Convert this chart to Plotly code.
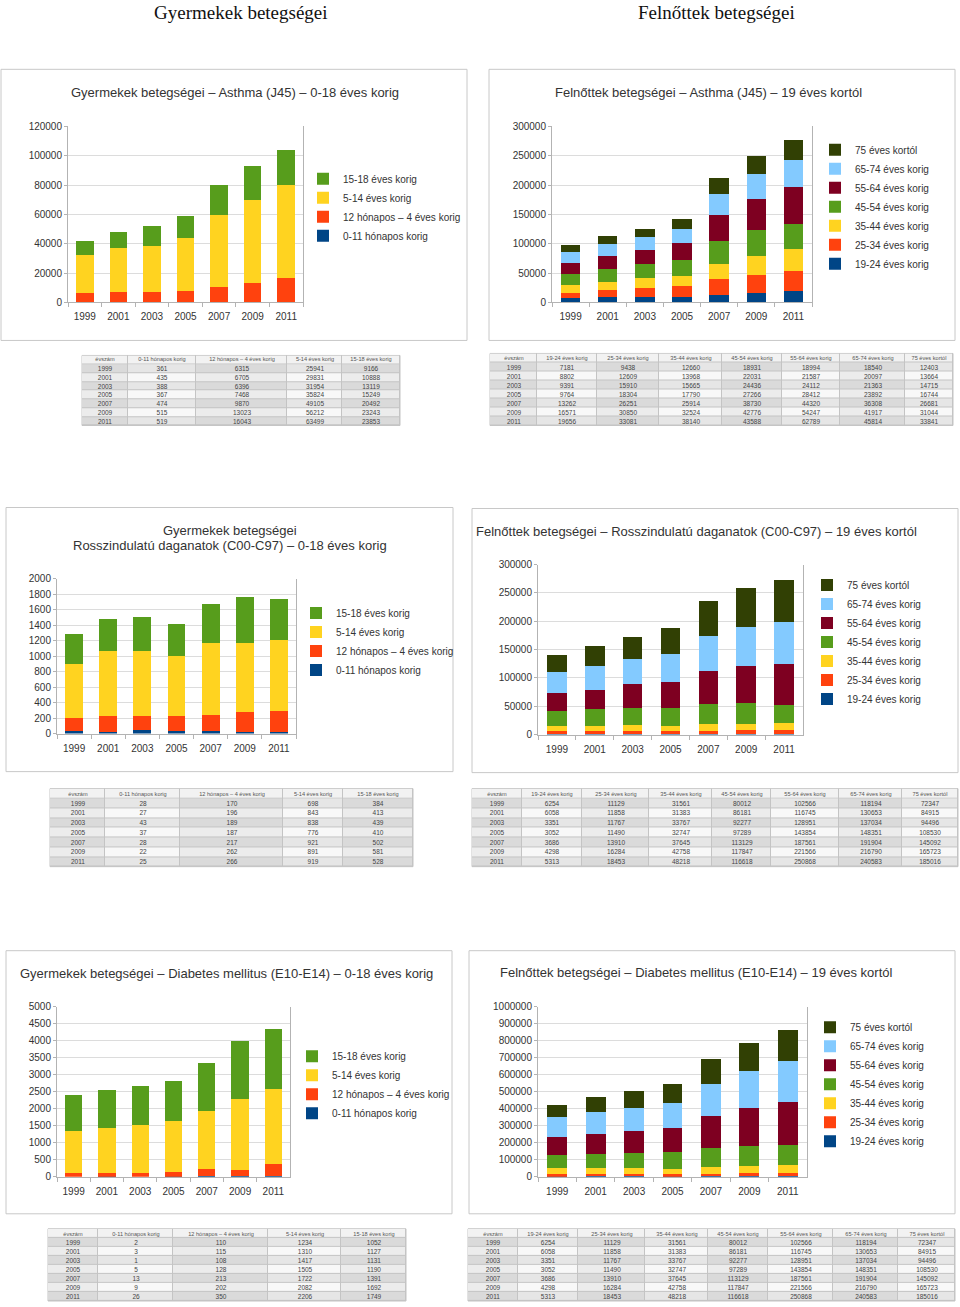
import plotly.graph_objects as go

W, H = 960, 1307

years = ["1999", "2001", "2003", "2005", "2007", "2009", "2011"]

child_groups = ["0-11 hónapos korig", "12 hónapos – 4 éves korig", "5-14 éves korig", "15-18 éves korig"]
adult_groups = ["19-24 éves korig", "25-34 éves korig", "35-44 éves korig", "45-54 éves korig",
                "55-64 éves korig", "65-74 éves korig", "75 éves kortól"]
child_colors = ["#004586", "#ff420e", "#ffd320", "#579d1c"]
adult_colors = ["#004586", "#ff420e", "#ffd320", "#579d1c", "#7e0021", "#83caff", "#314004"]

# --- Gyermekek: Asthma (J45) ---
asthma_c_0_11 = [361, 435, 388, 367, 474, 515, 519]
asthma_c_12h_4 = [6315, 6705, 6396, 7468, 9870, 13023, 16043]
asthma_c_5_14 = [25941, 29831, 31954, 35824, 49105, 56212, 63499]
asthma_c_15_18 = [9166, 10888, 13119, 15249, 20492, 23243, 23853]

# --- Felnőttek: Asthma (J45) ---
asthma_a_19_24 = [7181, 8802, 9391, 9764, 13262, 16571, 19656]
asthma_a_25_34 = [9438, 12609, 15910, 18304, 26251, 30850, 33081]
asthma_a_35_44 = [12660, 13968, 15665, 17790, 25914, 32524, 38140]
asthma_a_45_54 = [18931, 22031, 24436, 27266, 38730, 42776, 43588]
asthma_a_55_64 = [18994, 21587, 24112, 28412, 44320, 54247, 62789]
asthma_a_65_74 = [18540, 20097, 21363, 23892, 36308, 41917, 45814]
asthma_a_75 = [12403, 13664, 14715, 16744, 26681, 31044, 33841]

# --- Gyermekek: Rosszindulatú daganatok ---
cancer_c_0_11 = [28, 27, 43, 37, 28, 22, 25]
cancer_c_12h_4 = [170, 196, 189, 187, 217, 262, 266]
cancer_c_5_14 = [698, 843, 838, 776, 921, 891, 919]
cancer_c_15_18 = [384, 413, 439, 410, 502, 581, 528]

# --- Felnőttek: Rosszindulatú daganatok ---
cancer_a_19_24 = [1000, 1000, 1000, 1000, 1500, 1500, 1500]
cancer_a_25_34 = [5000, 5000, 5000, 5000, 5500, 6000, 6500]
cancer_a_35_44 = [9000, 9000, 11000, 10000, 11000, 11500, 12000]
cancer_a_45_54 = [26000, 29500, 30000, 31000, 36500, 36500, 33000]
cancer_a_55_64 = [33000, 35000, 42000, 46500, 57500, 66000, 72000]
cancer_a_65_74 = [36000, 42000, 43500, 49000, 62000, 69000, 74500]
cancer_a_75 = [31000, 35500, 40500, 46000, 62000, 68500, 73500]

# --- Felnőttek: table under cancer chart (as printed) ---
ctab_a_19_24 = [6254, 6058, 3351, 3052, 3686, 4298, 5313]
ctab_a_25_34 = [11129, 11858, 11767, 11490, 13910, 16284, 18453]
ctab_a_35_44 = [31561, 31383, 33767, 32747, 37645, 42758, 48218]
ctab_a_45_54 = [80012, 86181, 92277, 97289, 113129, 117847, 116618]
ctab_a_55_64 = [102566, 116745, 128951, 143854, 187561, 221566, 250868]
ctab_a_65_74 = [118194, 130653, 137034, 148351, 191904, 216790, 240583]
ctab_a_75 = [72347, 84915, 94496, 108530, 145092, 165723, 185016]

# --- Gyermekek: Diabetes mellitus ---
diab_c_0_11 = [2, 3, 1, 5, 13, 9, 26]
diab_c_12h_4 = [110, 115, 108, 128, 213, 202, 350]
diab_c_5_14 = [1234, 1310, 1417, 1505, 1722, 2082, 2206]
diab_c_15_18 = [1052, 1127, 1131, 1190, 1391, 1692, 1749]

# --- Felnőttek: Diabetes mellitus ---
diab_a_19_24 = [6254, 6058, 3351, 3052, 3686, 4298, 5313]
diab_a_25_34 = [11129, 11858, 11767, 11490, 13910, 16284, 18453]
diab_a_35_44 = [31561, 31383, 33767, 32747, 37645, 42758, 48218]
diab_a_45_54 = [80012, 86181, 92277, 97289, 113129, 117847, 116618]
diab_a_55_64 = [102566, 116745, 128951, 143854, 187561, 221566, 250868]
diab_a_65_74 = [118194, 130653, 137034, 148351, 191904, 216790, 240583]
diab_a_75 = [72347, 84915, 94496, 108530, 145092, 165723, 185016]

child_asthma = [asthma_c_0_11, asthma_c_12h_4, asthma_c_5_14, asthma_c_15_18]
adult_asthma = [asthma_a_19_24, asthma_a_25_34, asthma_a_35_44, asthma_a_45_54,
                asthma_a_55_64, asthma_a_65_74, asthma_a_75]
child_cancer = [cancer_c_0_11, cancer_c_12h_4, cancer_c_5_14, cancer_c_15_18]
adult_cancer = [cancer_a_19_24, cancer_a_25_34, cancer_a_35_44, cancer_a_45_54,
                cancer_a_55_64, cancer_a_65_74, cancer_a_75]
adult_cancer_table = [ctab_a_19_24, ctab_a_25_34, ctab_a_35_44, ctab_a_45_54,
                      ctab_a_55_64, ctab_a_65_74, ctab_a_75]
child_diab = [diab_c_0_11, diab_c_12h_4, diab_c_5_14, diab_c_15_18]
adult_diab = [diab_a_19_24, diab_a_25_34, diab_a_35_44, diab_a_45_54,
              diab_a_55_64, diab_a_65_74, diab_a_75]

FONT = "Liberation Sans, Arial, sans-serif"


def px(x):
    return x / W


def py(y):
    # vertical placement helper (page pixels -> paper fraction), with a small
    # correction so that the photographed page lines up with the reference
    yy = (y - 5.7) / 0.9904
    yy = max(0.0, min(float(H), yy))
    return 1 - yy / H


panels = [
    dict(series=child_asthma, groups=child_groups, colors=child_colors,
         plot=(68, 303, 126, 302), ymax=120000, dtick=20000, leg=(303, 164),
         box=(1, 467, 69, 340),
         titles=[("Gyermekek betegségei – Asthma (J45) – 0-18 éves korig", 235, 92)]),
    dict(series=adult_asthma, groups=adult_groups, colors=adult_colors,
         plot=(552, 812, 126, 302), ymax=300000, dtick=50000, leg=(815, 135),
         box=(489, 955, 69, 340),
         titles=[("Felnőttek betegségei – Asthma (J45) – 19 éves kortól", 708, 92)]),
    dict(series=child_cancer, groups=child_groups, colors=child_colors,
         plot=(57, 296, 578, 733), ymax=2000, dtick=200, leg=(296, 598),
         box=(6, 453, 507, 771),
         titles=[("Gyermekek betegségei", 230, 530),
                 ("Rosszindulatú daganatok (C00-C97) – 0-18 éves korig", 230, 545)]),
    dict(series=adult_cancer, groups=adult_groups, colors=adult_colors,
         plot=(538, 803, 564, 734), ymax=300000, dtick=50000, leg=(807, 570),
         box=(472, 958, 508, 772),
         titles=[("Felnőttek betegségei – Rosszindulatú daganatok (C00-C97) – 19 éves kortól", 696, 531)]),
    dict(series=child_diab, groups=child_groups, colors=child_colors,
         plot=(57, 290, 1006, 1176), ymax=5000, dtick=500, leg=(292, 1041),
         box=(6, 452, 950, 1213),
         titles=[("Gyermekek betegségei – Diabetes mellitus (E10-E14) – 0-18 éves korig", 226, 973)]),
    dict(series=adult_diab, groups=adult_groups, colors=adult_colors,
         plot=(538, 807, 1006, 1176), ymax=1000000, dtick=100000, leg=(810, 1012),
         box=(469, 955, 950, 1213),
         titles=[("Felnőttek betegségei – Diabetes mellitus (E10-E14) – 19 éves kortól", 696, 972)]),
]

fig = go.Figure()
layout = dict(width=W, height=H, margin=dict(l=0, r=0, t=0, b=0),
              paper_bgcolor="white", plot_bgcolor="white",
              barmode="stack", bargap=0.48, showlegend=True,
              font=dict(family=FONT, size=10, color="#333333"))
shapes = []
annotations = []

for i, p in enumerate(panels):
    n = i + 1
    xa = "xaxis" if n == 1 else f"xaxis{n}"
    ya = "yaxis" if n == 1 else f"yaxis{n}"
    xr = "x" if n == 1 else f"x{n}"
    yr = "y" if n == 1 else f"y{n}"
    lg = "legend" if n == 1 else f"legend{n}"
    x0, x1, y0, y1 = p["plot"]
    for name, vals, col in zip(p["groups"], p["series"], p["colors"]):
        fig.add_trace(go.Bar(x=years, y=vals, name=name, marker=dict(color=col, line=dict(width=0)),
                             xaxis=xr, yaxis=yr, legend=lg, hoverinfo="x+y+name"))
    layout[xa] = dict(domain=[px(x0), px(x1)], anchor=yr, type="category",
                      showline=True, linecolor="#b3b3b3", linewidth=1,
                      ticks="outside", tickson="boundaries", ticklen=4, tickcolor="#b3b3b3",
                      ticklabelstandoff=5,
                      tickfont=dict(size=10, color="#333333"), showgrid=False, zeroline=False)
    layout[ya] = dict(domain=[py(y1), py(y0)], anchor=xr, range=[0, p["ymax"]], dtick=p["dtick"],
                      tickformat="d", showline=True, linecolor="#b3b3b3", linewidth=1, mirror=True,
                      ticks="outside", ticklen=3, tickcolor="#b3b3b3",
                      showgrid=True, gridcolor="#dcdcdc", gridwidth=1, zeroline=False,
                      tickfont=dict(size=10, color="#333333"))
    lx, ly = p["leg"]
    layout[lg] = dict(x=px(lx), y=py(ly), xanchor="left", yanchor="top",
                      traceorder="reversed", bgcolor="rgba(0,0,0,0)",
                      font=dict(size=10, color="#333333", family=FONT), itemwidth=30)
    bx0, bx1, by0, by1 = p["box"]
    shapes.append(dict(type="rect", xref="paper", yref="paper", x0=px(bx0), x1=px(bx1),
                       y0=py(by1), y1=py(by0), line=dict(color="#c8c8c8", width=1),
                       fillcolor="white", layer="below"))
    for text, tx, ty in p["titles"]:
        annotations.append(dict(text=text, x=px(tx), y=py(ty), xref="paper", yref="paper",
                                xanchor="center", yanchor="middle", showarrow=False,
                                font=dict(size=13, color="#333333", family=FONT)))

SERIF = "Liberation Serif, Times New Roman, serif"
annotations.append(dict(text="Gyermekek betegségei", x=px(241), y=py(12.5), xref="paper", yref="paper",
                        xanchor="center", yanchor="middle", showarrow=False,
                        font=dict(size=19, color="#111111", family=SERIF)))
annotations.append(dict(text="Felnőttek betegségei", x=px(716), y=py(12.5), xref="paper", yref="paper",
                        xanchor="center", yanchor="middle", showarrow=False,
                        font=dict(size=19, color="#111111", family=SERIF)))

# --- tables (drawn as text grids on their own hidden axes) ---
tables = [
    dict(x=(82, 400), y=(355, 425), groups=child_groups, data=child_asthma, cw=[46, 68, 91, 55, 58]),
    dict(x=(490, 953), y=(353, 425), groups=adult_groups, data=adult_asthma, cw=[47, 60, 62, 63, 60, 58, 65, 48]),
    dict(x=(50, 413), y=(788, 866), groups=child_groups, data=child_cancer, cw=[55, 75, 103, 60, 70]),
    dict(x=(472, 958), y=(788, 866), groups=adult_groups, data=adult_cancer_table, cw=[50, 60, 67, 63, 59, 68, 63, 56]),
    dict(x=(48, 406), y=(1228, 1305), groups=child_groups, data=child_diab, cw=[50, 75, 95, 73, 65]),
    dict(x=(468, 955), y=(1228, 1305), groups=adult_groups, data=adult_diab, cw=[50, 60, 67, 63, 60, 65, 65, 57]),
]

shade_scale = [[0.0, "#f2f2f2"], [0.2, "#f2f2f2"], [0.2, "#dadada"], [0.4, "#dadada"],
               [0.4, "#ececec"], [0.6, "#ececec"], [0.6, "#e6e6e6"], [0.8, "#e6e6e6"],
               [0.8, "#f8f8f8"], [1.0, "#f8f8f8"]]

for k, t in enumerate(tables):
    n = 7 + k
    xa, ya, xr, yr = f"xaxis{n}", f"yaxis{n}", f"x{n}", f"y{n}"
    x0, x1 = t["x"]
    y0, y1 = t["y"]
    nrow = len(years)
    edges = [0]
    for w in t["cw"]:
        edges.append(edges[-1] + w)
    ncol = len(t["cw"])
    head = ["évszám"] + t["groups"]
    fig.add_trace(go.Heatmap(
        x=edges, y=[0, 1], z=[[0] * ncol], zmin=0, zmax=4, colorscale=shade_scale, showscale=False,
        text=[head], texttemplate="%{text}", textfont=dict(size=5.6, color="#555555", family=FONT),
        xgap=1, ygap=1, hoverinfo="skip", xaxis=xr, yaxis=yr))
    zrows, trows = [], []
    for r in range(nrow):
        zr = []
        for c in range(ncol):
            if c % 2 == 0:
                zr.append(1 if r % 2 == 0 else 2)
            else:
                zr.append(3 if r % 2 == 0 else 4)
        zrows.append(zr)
        trows.append([years[r]] + [str(col[r]) for col in t["data"]])
    fig.add_trace(go.Heatmap(
        x=edges, y=list(range(1, nrow + 2)), z=zrows, zmin=0, zmax=4, colorscale=shade_scale,
        showscale=False, text=trows, texttemplate="%{text}",
        textfont=dict(size=6.5, color="#444444", family=FONT),
        xgap=1, ygap=1, hoverinfo="skip", xaxis=xr, yaxis=yr))
    layout[xa] = dict(domain=[px(x0), px(x1)], anchor=yr, range=[0, edges[-1]], visible=False,
                      fixedrange=True)
    layout[ya] = dict(domain=[py(y1), py(y0)], anchor=xr, range=[nrow + 1, 0], visible=False,
                      fixedrange=True)
    shapes.append(dict(type="rect", xref="paper", yref="paper", x0=px(x0), x1=px(x1),
                       y0=py(y1), y1=py(y0), line=dict(color="#c4c4c4", width=1),
                       fillcolor="#c4c4c4", layer="below"))

layout["shapes"] = shapes
layout["annotations"] = annotations
fig.update_layout(**layout)

fig.write_html(
    "out.html",
    config={"displayModeBar": False},
    post_script=("document.body.style.margin='0px';"
                 "var d=document.getElementById('{plot_id}');"
                 "d.style.position='absolute';d.style.left='0px';d.style.top='0px';"),
)
